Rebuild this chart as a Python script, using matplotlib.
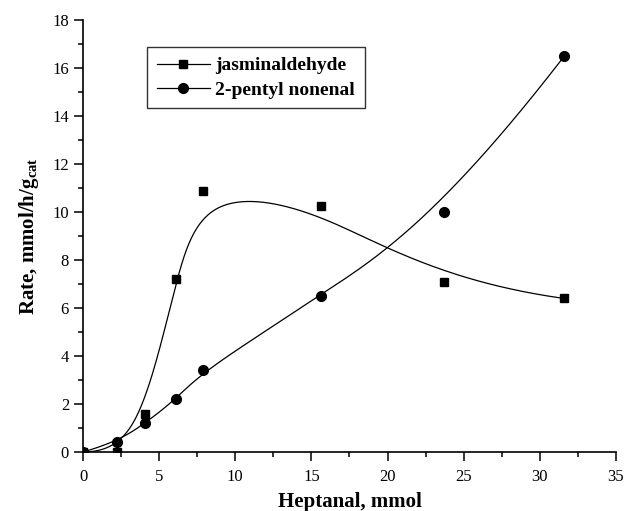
import numpy as np
import matplotlib
matplotlib.use('Agg')
import matplotlib.pyplot as plt
from matplotlib.ticker import MultipleLocator

# data
heptanal = [0, 2.2, 4.1, 6.1, 7.9, 15.6, 23.7, 31.6]
jasmin = [0, 0.0, 1.6, 7.2, 10.9, 10.25, 7.1, 6.4]
pentyl = [0, 0.4, 1.2, 2.2, 3.4, 6.5, 10.0, 16.5]

def bspline(xs, ys, deg=3, num=400):
	# clamped B-spline using the data points as control points (Origin style line)
	pts = np.column_stack([xs, ys]).astype(float)
	n = len(pts)
	knots = np.concatenate([np.zeros(deg), np.arange(n - deg + 1), np.full(deg, n - deg)]).astype(float)
	ts = np.linspace(0, n - deg, num)
	out = []
	for t in ts:
		k = np.searchsorted(knots, t, side='right') - 1
		k = min(k, n - 1)
		d = [pts[j + k - deg].copy() for j in range(deg + 1)]
		for r in range(1, deg + 1):
			for j in range(deg, r - 1, -1):
				i = j + k - deg
				den = knots[i + 1 + deg - r] - knots[i]
				a = 0 if den == 0 else (t - knots[i]) / den
				d[j] = (1 - a) * d[j - 1] + a * d[j]
		out.append(d[deg])
	out = np.array(out)
	return out[:, 0], out[:, 1]

plt.rcParams['font.family'] = 'Liberation Serif'
plt.rcParams['mathtext.fontset'] = 'custom'
plt.rcParams['mathtext.rm'] = 'Liberation Serif'
plt.rcParams['mathtext.bf'] = 'Liberation Serif:bold'
fig = plt.figure(figsize=(6.26, 5.11), dpi=100)
ax = fig.add_axes([0.1326, 0.1155, 0.8514, 0.8449])

jx, jy = bspline(heptanal, jasmin)
px, py = bspline(heptanal, pentyl)
ax.plot(jx, jy, color='black', lw=0.9)
ax.plot(px, py, color='black', lw=0.9)
ax.plot(heptanal, jasmin, 's', color='black', ms=6, ls='none')
ax.plot(heptanal, pentyl, 'o', color='black', ms=7, ls='none')

# legend handles
ax.plot([], [], 's-', color='black', ms=6, lw=0.9, label='jasminaldehyde')
ax.plot([], [], 'o-', color='black', ms=7, lw=0.9, label='2-pentyl nonenal')
leg = ax.legend(loc='upper left', bbox_to_anchor=(0.1206, 0.938), borderaxespad=0, frameon=True, fancybox=False,
	edgecolor='black', prop={'family': 'Liberation Serif', 'weight': 'bold', 'size': 14},
	handlelength=2.7, handletextpad=0.3, borderpad=0.5, labelspacing=0.35)
leg.get_frame().set_linewidth(1.0)

ax.set_xlim(0, 35)
ax.set_ylim(0, 18)
ax.xaxis.set_major_locator(MultipleLocator(5))
ax.xaxis.set_minor_locator(MultipleLocator(2.5))
ax.yaxis.set_major_locator(MultipleLocator(2))
ax.yaxis.set_minor_locator(MultipleLocator(1))
ax.spines['top'].set_visible(False)
ax.spines['right'].set_visible(False)
ax.spines['left'].set_linewidth(1.2)
ax.spines['bottom'].set_linewidth(1.2)
ax.tick_params(which='major', direction='out', length=6.5, width=1.1, labelsize=12)
ax.tick_params(axis='x', which='major', pad=6)
ax.tick_params(which='minor', direction='out', length=3.6, width=1.1)

ax.set_xlabel('Heptanal, mmol', fontsize=15, fontweight='bold', labelpad=5)
ax.set_ylabel(r'Rate, mmol/h/g$_{\mathbf{cat}}$', fontsize=15, fontweight='bold', labelpad=8)

fig.savefig('out.png', dpi=100)
